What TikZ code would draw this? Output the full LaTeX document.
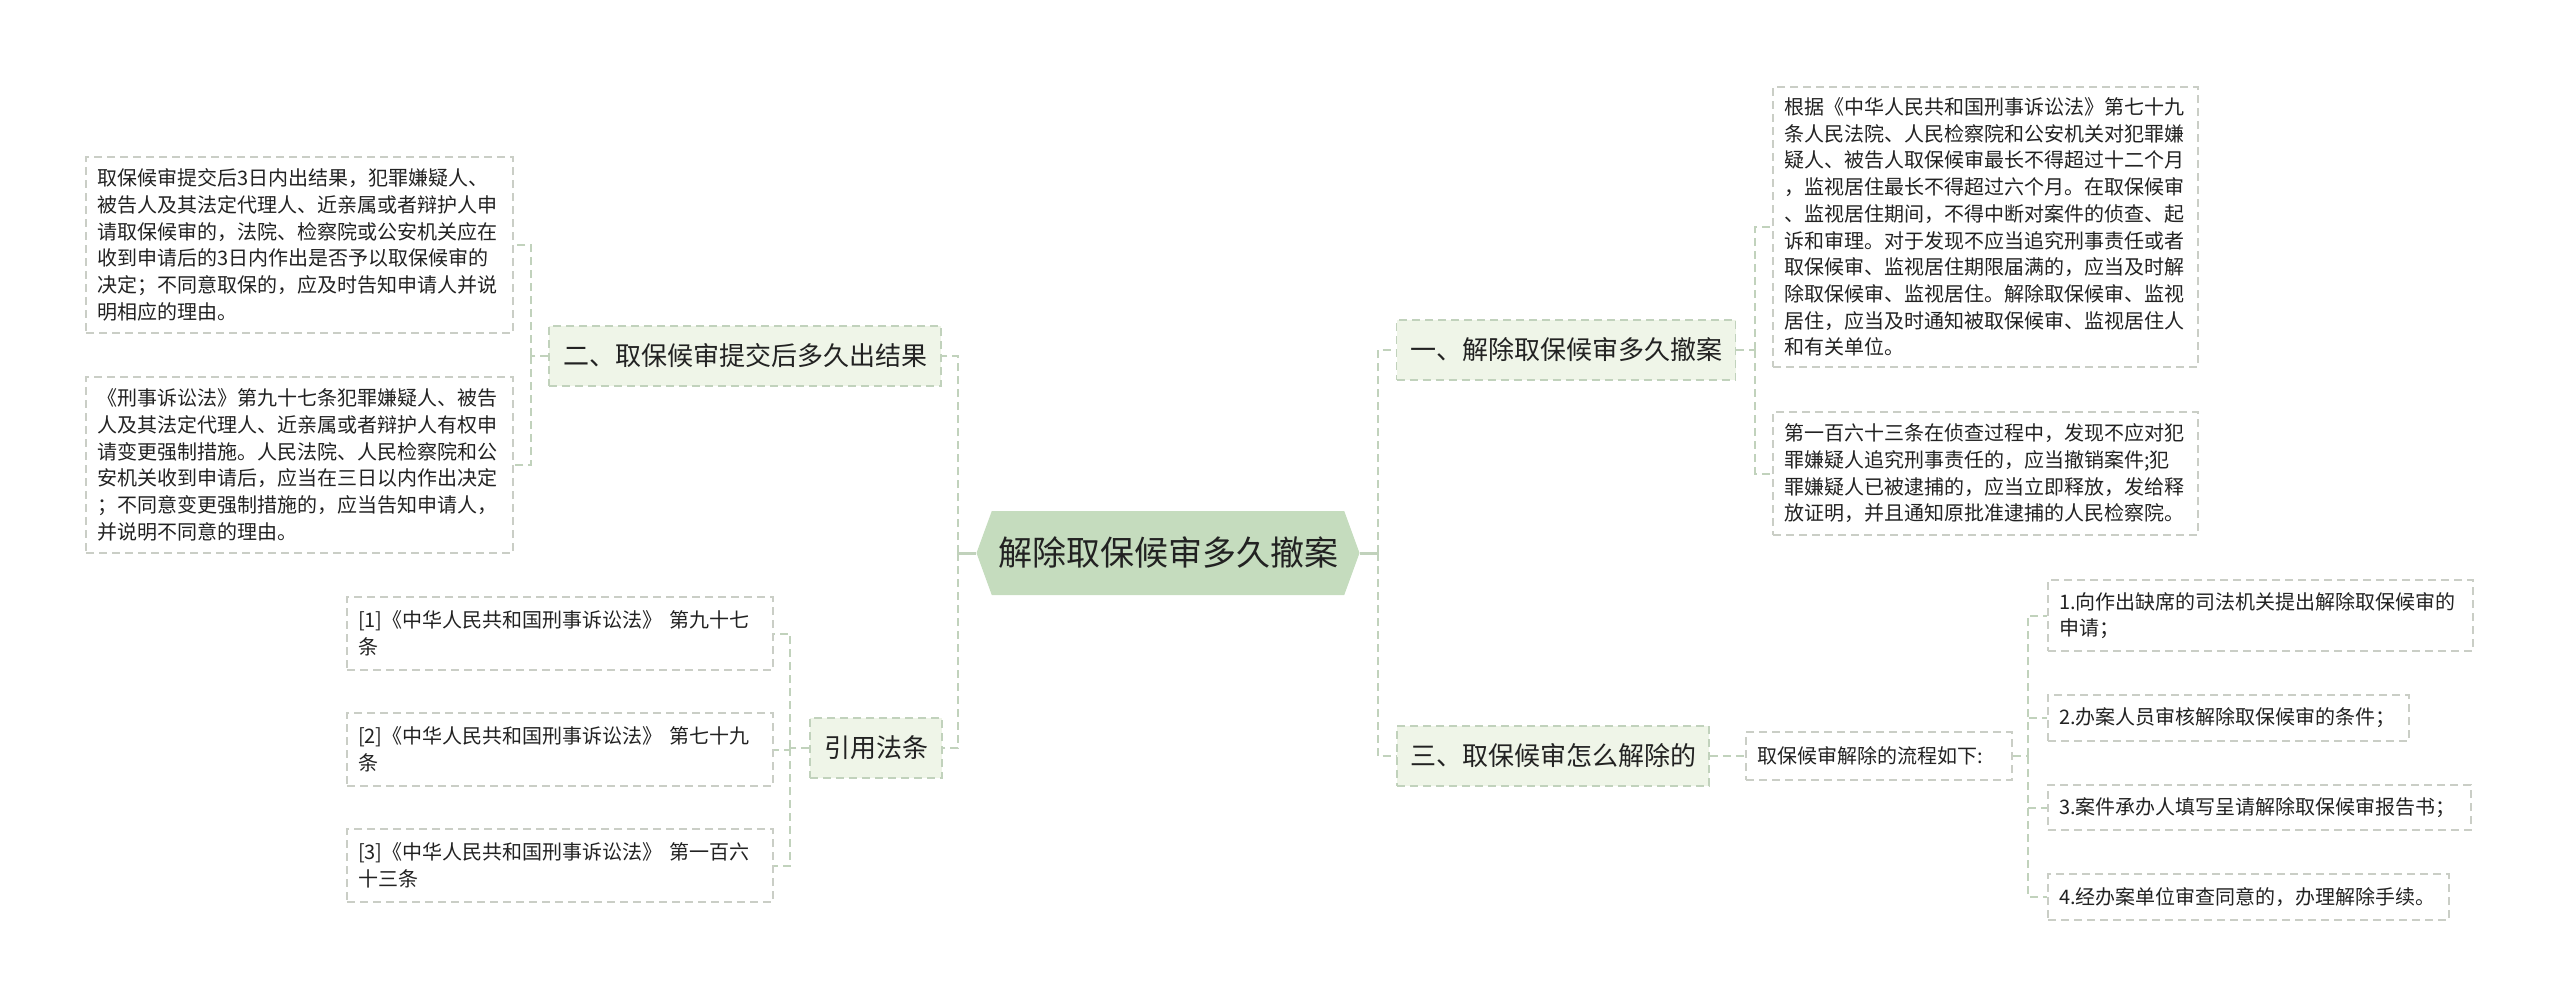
\documentclass[tikz,border=0pt]{standalone}
\usepackage{fontspec}
\setmainfont{Noto Sans CJK SC}
\usetikzlibrary{shapes.symbols,positioning}
\definecolor{rootfill}{RGB}{197,220,190}
\definecolor{subfill}{RGB}{239,245,232}
\definecolor{edgec}{RGB}{193,210,188}
\definecolor{boxc}{RGB}{202,206,198}
\definecolor{txt}{RGB}{34,34,34}

\begin{document}
\begin{tikzpicture}[x=1pt,y=-1pt]
  \tikzstyle{every node} = [text=txt, inner sep=0pt];
  \tikzstyle{rootnode} = [shape=signal, signal to=west and east, signal pointer angle=140,
    fill=rootfill, minimum width=383pt, minimum height=84pt, font=\fontsize{34}{40}\selectfont];
  \tikzstyle{topic} = [draw=edgec, fill=subfill, line width=1.5pt, dash pattern=on 8pt off 5pt,
    minimum height=60pt, font=\fontsize{26}{32}\selectfont];
  \tikzstyle{leaf} = [draw=boxc, line width=1.5pt, dash pattern=on 8pt off 5pt, align=left,
    inner xsep=11pt, font=\fontsize{20}{26.7}\selectfont];
  \tikzstyle{link} = [draw=edgec, line width=2pt, dash pattern=on 8pt off 5pt];
  \tikzstyle{mainlink} = [draw=edgec, line width=3pt];

  \useasboundingbox (0,0) rectangle (2560,1007);

  % centre and main topics
  \node[rootnode] (root) at (1168,553) {解除取保候审多久撤案};
  \node[topic, minimum width=392pt] (q2) at (745,356) {二、取保候审提交后多久出结果};
  \node[topic, minimum width=132pt] (refs) at (876,748) {引用法条};
  \node[topic, minimum width=339pt] (q1) at (1566,350) {一、解除取保候审多久撤案};
  \node[topic, minimum width=312pt] (q3) at (1553,756) {三、取保候审怎么解除的};

  % left side
  \node[leaf, text width=405pt, minimum height=176pt] (a21) at (299.5,245) {取保候审提交后3日内出结果，犯罪嫌疑人、\\
    被告人及其法定代理人、近亲属或者辩护人申\\
    请取保候审的，法院、检察院或公安机关应在\\
    收到申请后的3日内作出是否予以取保候审的\\
    决定；不同意取保的，应及时告知申请人并说\\
    明相应的理由。};
  \node[leaf, text width=405pt, minimum height=176pt] (a22) at (299.5,465) {《刑事诉讼法》第九十七条犯罪嫌疑人、被告\\
    人及其法定代理人、近亲属或者辩护人有权申\\
    请变更强制措施。人民法院、人民检察院和公\\
    安机关收到申请后，应当在三日以内作出决定\\
    ；不同意变更强制措施的，应当告知申请人，\\
    并说明不同意的理由。};
  \node[leaf, text width=404pt, minimum height=73pt] (r1) at (560,633.5) {[1]《中华人民共和国刑事诉讼法》 第九十七\\条};
  \node[leaf, text width=404pt, minimum height=73pt] (r2) at (560,749.5) {[2]《中华人民共和国刑事诉讼法》 第七十九\\条};
  \node[leaf, text width=404pt, minimum height=73pt] (r3) at (560,865.5) {[3]《中华人民共和国刑事诉讼法》 第一百六\\十三条};

  % right side
  \node[leaf, text width=403pt, minimum height=280pt] (a11) at (1985.5,227) {根据《中华人民共和国刑事诉讼法》第七十九\\
    条人民法院、人民检察院和公安机关对犯罪嫌\\
    疑人、被告人取保候审最长不得超过十二个月\\
    ，监视居住最长不得超过六个月。在取保候审\\
    、监视居住期间，不得中断对案件的侦查、起\\
    诉和审理。对于发现不应当追究刑事责任或者\\
    取保候审、监视居住期限届满的，应当及时解\\
    除取保候审、监视居住。解除取保候审、监视\\
    居住，应当及时通知被取保候审、监视居住人\\
    和有关单位。};
  \node[leaf, text width=403pt, minimum height=123pt] (a12) at (1985.5,473.5) {第一百六十三条在侦查过程中，发现不应对犯\\
    罪嫌疑人追究刑事责任的，应当撤销案件;犯\\
    罪嫌疑人已被逮捕的，应当立即释放，发给释\\
    放证明，并且通知原批准逮捕的人民检察院。};
  \node[leaf, text width=244pt, minimum height=48pt] (flow) at (1879,756) {取保候审解除的流程如下:};
  \node[leaf, text width=403pt, minimum height=71pt] (s1) at (2260.5,615.5) {1.向作出缺席的司法机关提出解除取保候审的\\申请；};
  \node[leaf, text width=339pt, minimum height=46pt] (s2) at (2228.5,718) {2.办案人员审核解除取保候审的条件；};
  \node[leaf, text width=401pt, minimum height=45pt] (s3) at (2259.5,807.5) {3.案件承办人填写呈请解除取保候审报告书；};
  \node[leaf, text width=379pt, minimum height=46pt] (s4) at (2248.5,897) {4.经办案单位审查同意的，办理解除手续。};

  % junctions
  \coordinate[left=18pt of root.west] (lj);
  \coordinate[right=18pt of root.east] (rj);
  \coordinate[left=17pt of q2.west] (q2j);
  \coordinate[left=19pt of refs.west] (refj);
  \coordinate[right=19pt of q1.east] (q1j);
  \coordinate[right=15pt of flow.east] (flj);

  % connectors
  \draw[mainlink] (root.west) -- (lj);
  \draw[mainlink] (root.east) -- (rj);
  \foreach \n in {q2,refs}{ \draw[link] (lj) |- (\n.east); }
  \foreach \n in {q1,q3}{ \draw[link] (rj) |- (\n.west); }
  \draw[link] (q2.west) -- (q2j);
  \foreach \n in {a21,a22}{ \draw[link] (q2j) |- (\n.east); }
  \draw[link] (refs.west) -- (refj);
  \foreach \n in {r1,r2,r3}{ \draw[link] (refj) |- (\n.east); }
  \draw[link] (q1.east) -- (q1j);
  \foreach \n in {a11,a12}{ \draw[link] (q1j) |- (\n.west); }
  \draw[link] (q3.east) -- (flow.west);
  \draw[link] (flow.east) -- (flj);
  \foreach \n in {s1,s2,s3,s4}{ \draw[link] (flj) |- (\n.west); }
\end{tikzpicture}
\end{document}
